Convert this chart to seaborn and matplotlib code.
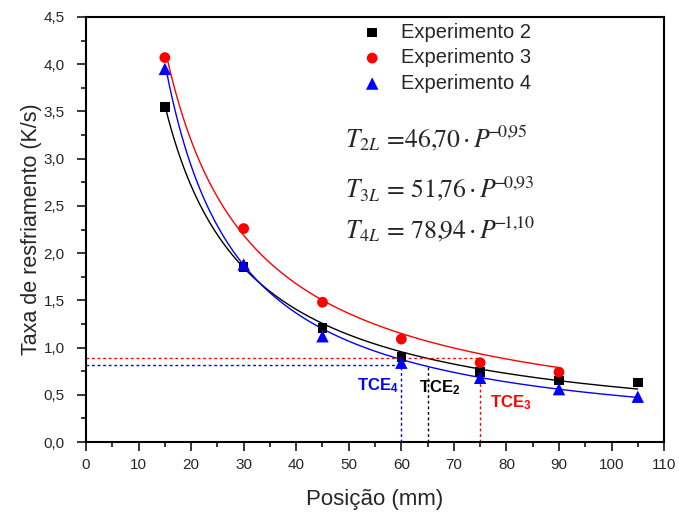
import numpy as np
import pandas as pd
import matplotlib
matplotlib.use("Agg")
import matplotlib.pyplot as plt
from matplotlib.ticker import MultipleLocator, FuncFormatter
import seaborn as sns

# Measured cooling rates along the position
pos_2 = [15, 30, 45, 60, 75, 90, 105]
rate_2 = [3.55, 1.85, 1.21, 0.90, 0.74, 0.65, 0.63]
pos_3 = [15, 30, 45, 60, 75, 90]
rate_3 = [4.07, 2.26, 1.48, 1.09, 0.84, 0.74]
pos_4 = [15, 30, 45, 60, 75, 90, 105]
rate_4 = [3.95, 1.88, 1.12, 0.84, 0.68, 0.56, 0.48]

labels = ["Experimento 2", "Experimento 3", "Experimento 4"]

# Power-law fits T = a * P^b
fit_a = [46.70, 51.76, 78.94]
fit_b = [-0.95, -0.93, -1.10]
fit_start = [15, 15.6, 15.2]
fit_end = [105, 90, 105]

# Critical cooling (TCE) guide lines: (x, y)
tce_2 = (65, 0.82)
tce_3 = (75, 0.89)
tce_4 = (60, 0.82)

sns.set_theme(style="ticks")
plt.rcParams["font.family"] = ["Liberation Sans", "DejaVu Sans"]
plt.rcParams["mathtext.fontset"] = "stix"

fig = plt.figure(figsize=(6.79, 5.14), dpi=100)
ax = fig.add_axes([0.1267, 0.140, 0.8513, 0.827])

colors = ["black", "red", "blue"]
markers = ["s", "o", "^"]
sizes = [48, 60, 80]
series = [(pos_2, rate_2), (pos_3, rate_3), (pos_4, rate_4)]

for c, a, b, xs0, xe in zip(colors, fit_a, fit_b, fit_start, fit_end):
    xs = np.linspace(xs0, xe, 300)
    fit_df = pd.DataFrame({"x": xs, "y": a * xs ** b})
    sns.lineplot(data=fit_df, x="x", y="y", color=c, lw=1.0, ax=ax, legend=False)

for (px, py), lab, c, m, s in zip(series, labels, colors, markers, sizes):
    df = pd.DataFrame({"x": px, "y": py})
    sns.scatterplot(data=df, x="x", y="y", color=c, marker=m, s=s,
                    edgecolor="none", ax=ax, label=lab, zorder=3)

# TCE dotted guides
dot = (0, (2, 2))
ax.plot([0, tce_3[0]], [tce_3[1], tce_3[1]], ls=dot, color="red", lw=1)
ax.plot([tce_3[0], tce_3[0]], [0, tce_3[1]], ls=dot, color="red", lw=1)
ax.plot([0, tce_4[0]], [tce_4[1], tce_4[1]], ls=dot, color="blue", lw=1)
ax.plot([tce_4[0], tce_4[0]], [0, tce_4[1]], ls=dot, color="blue", lw=1)
ax.plot([tce_2[0], tce_2[0]], [0, tce_2[1]], ls=dot, color="black", lw=1)

ax.text(55.6, 0.60, r"TCE$_{\mathregular{4}}$", color="blue", fontsize=12,
        fontweight="bold", ha="center", va="center")
ax.text(67.4, 0.57, r"TCE$_{\mathregular{2}}$", color="black", fontsize=12,
        fontweight="bold", ha="center", va="center")
ax.text(80.8, 0.42, r"TCE$_{\mathregular{3}}$", color="red", fontsize=12,
        fontweight="bold", ha="center", va="center")

# Fit equations
eqs = [r"$T_{2L}\,{=}\!46{,}\!70\,{\cdot}\,P^{\!\!{-}\!0{,}\!95}$",
       r"$T_{3L}\,{=}\,51{,}\!76\,{\cdot}\,P^{\!\!{-}\!0{,}\!93}$",
       r"$T_{4L}\,{=}\,78{,}\!94\,{\cdot}\,P^{\!\!{-}\!1{,}\!10}$"]
eq_y = [3.12, 2.59, 2.16]
for e, y in zip(eqs, eq_y):
    ax.text(49.3, y, e, fontsize=18.5, ha="left", va="baseline")

ax.set_xlim(0, 110)
ax.set_ylim(0, 4.5)
ax.xaxis.set_major_locator(MultipleLocator(10))
ax.xaxis.set_minor_locator(MultipleLocator(5))
ax.yaxis.set_major_locator(MultipleLocator(0.5))
ax.yaxis.set_minor_locator(MultipleLocator(0.25))
ax.yaxis.set_major_formatter(FuncFormatter(lambda v, p: f"{v:.1f}".replace(".", ",")))
ax.tick_params(which="major", direction="out", length=6.5, width=1.3, labelsize=11,
               top=False, right=False)
ax.tick_params(which="minor", direction="out", length=3.5, width=1.3,
               top=False, right=False)
ax.tick_params(axis="x", which="major", pad=5)
ax.tick_params(axis="y", which="major", pad=9)
for sp in ax.spines.values():
    sp.set_visible(True)
    sp.set_linewidth(1.5)
    sp.set_color("black")

ax.set_xlabel("Posição (mm)", fontsize=16, labelpad=12)
ax.set_ylabel("Taxa de resfriamento (K/s)", fontsize=15.5, labelpad=1)

leg = ax.legend(loc="upper left", bbox_to_anchor=(0.455, 1.012), frameon=False,
                fontsize=14.5, handletextpad=0.85, labelspacing=0.32,
                borderaxespad=0.15, handlelength=1.2)

fig.savefig("out.png", dpi=100)
